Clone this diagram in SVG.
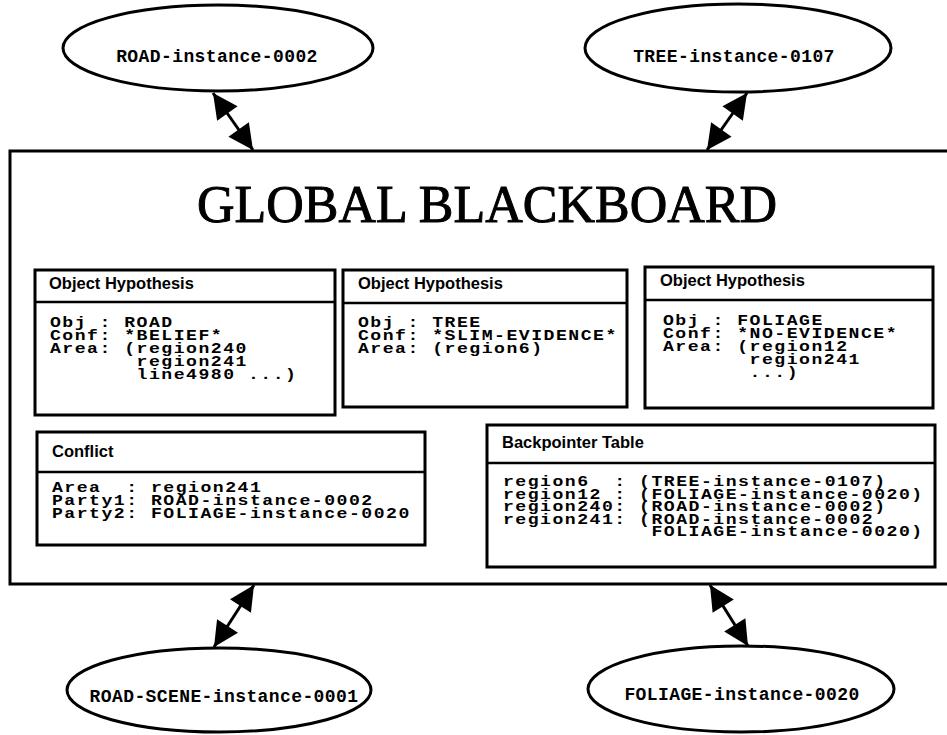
<svg xmlns="http://www.w3.org/2000/svg" width="947" height="735" viewBox="0 0 947 735">
<style>
.frame{fill:#fff;stroke:#000;stroke-width:3}
.node{fill:#fff;stroke:#000;stroke-width:3}
.sep{stroke:#000;stroke-width:2.5}
.lbl{font-family:"Liberation Mono","DejaVu Sans Mono",monospace;font-weight:bold;font-size:18px;letter-spacing:0.4px;text-anchor:middle;fill:#000}
.hdr{font-family:"Liberation Sans",Arial,sans-serif;font-weight:bold;font-size:16.5px;fill:#000}
.body{font-family:"Liberation Mono","DejaVu Sans Mono",monospace;font-weight:bold;font-size:14.5px;letter-spacing:1.2px;white-space:pre;fill:#000}
.title{font-family:"Liberation Serif","Times New Roman",serif;font-size:53px;text-anchor:middle;fill:#000;stroke:#000;stroke-width:1}
.conn{stroke:#000;stroke-width:3;fill:none;marker-start:url(#ah);marker-end:url(#ah)}
</style>
<defs>
<marker id="ah" viewBox="0 0 10 10" refX="10" refY="5" markerWidth="27" markerHeight="25" markerUnits="userSpaceOnUse" orient="auto-start-reverse">
<path d="M0,0 L10,5 L0,10 z" fill="#000"/>
</marker>
</defs>
<rect width="947" height="735" fill="#fff"/>

<g id="blackboard">
<rect class="frame" x="10" y="151" width="960" height="433"/>
<text class="title" x="487" y="222" textLength="580" lengthAdjust="spacingAndGlyphs">GLOBAL BLACKBOARD</text>
</g>

<g id="hyp-road">
<rect class="node" x="35" y="270" width="300" height="145"/>
<line class="sep" x1="35" y1="302" x2="335" y2="302"/>
<text class="hdr" x="49" y="289">Object Hypothesis</text>
<g transform="translate(50,0) scale(1.25,1)">
<text class="body" x="0" y="327" xml:space="preserve">Obj : ROAD</text>
<text class="body" x="0" y="340" xml:space="preserve">Conf: *BELIEF*</text>
<text class="body" x="0" y="353" xml:space="preserve">Area: (region240</text>
<text class="body" x="0" y="366" xml:space="preserve">       region241</text>
<text class="body" x="0" y="379" xml:space="preserve">       line4980 ...)</text>
</g>
</g>

<g id="hyp-tree">
<rect class="node" x="343" y="270" width="284" height="137"/>
<line class="sep" x1="343" y1="303" x2="627" y2="303"/>
<text class="hdr" x="358" y="289">Object Hypothesis</text>
<g transform="translate(358,0) scale(1.25,1)">
<text class="body" x="0" y="327" xml:space="preserve">Obj : TREE</text>
<text class="body" x="0" y="340" xml:space="preserve">Conf: *SLIM-EVIDENCE*</text>
<text class="body" x="0" y="353" xml:space="preserve">Area: (region6)</text>
</g>
</g>

<g id="hyp-foliage">
<rect class="node" x="645" y="267" width="288" height="141"/>
<line class="sep" x1="645" y1="300" x2="933" y2="300"/>
<text class="hdr" x="660" y="286">Object Hypothesis</text>
<g transform="translate(663,0) scale(1.25,1)">
<text class="body" x="0" y="325" xml:space="preserve">Obj : FOLIAGE</text>
<text class="body" x="0" y="338" xml:space="preserve">Conf: *NO-EVIDENCE*</text>
<text class="body" x="0" y="351" xml:space="preserve">Area: (region12</text>
<text class="body" x="0" y="364" xml:space="preserve">       region241</text>
<text class="body" x="0" y="377" xml:space="preserve">       ...)</text>
</g>
</g>

<g id="conflict">
<rect class="node" x="37" y="432" width="388" height="113"/>
<line class="sep" x1="37" y1="472" x2="425" y2="472"/>
<text class="hdr" x="52" y="457">Conflict</text>
<g transform="translate(52,0) scale(1.25,1)">
<text class="body" x="0" y="492" xml:space="preserve">Area  : region241</text>
<text class="body" x="0" y="505" xml:space="preserve">Party1: ROAD-instance-0002</text>
<text class="body" x="0" y="518" xml:space="preserve">Party2: FOLIAGE-instance-0020</text>
</g>
</g>

<g id="backpointer">
<rect class="node" x="487" y="425" width="448" height="142"/>
<line class="sep" x1="487" y1="463" x2="935" y2="463"/>
<text class="hdr" x="502" y="448">Backpointer Table</text>
<g transform="translate(503,0) scale(1.25,1)">
<text class="body" x="0" y="486" xml:space="preserve">region6  : (TREE-instance-0107)</text>
<text class="body" x="0" y="499" xml:space="preserve">region12 : (FOLIAGE-instance-0020)</text>
<text class="body" x="0" y="511" xml:space="preserve">region240: (ROAD-instance-0002)</text>
<text class="body" x="0" y="524" xml:space="preserve">region241: (ROAD-instance-0002</text>
<text class="body" x="0" y="536" xml:space="preserve">            FOLIAGE-instance-0020)</text>
</g>
</g>

<g id="road-instance">
<ellipse class="node" cx="218" cy="48" rx="155" ry="43"/>
<text class="lbl" x="217" y="62">ROAD-instance-0002</text>
</g>

<g id="tree-instance">
<ellipse class="node" cx="738" cy="48" rx="153" ry="44"/>
<text class="lbl" x="734" y="62">TREE-instance-0107</text>
</g>

<g id="road-scene-instance">
<ellipse class="node" cx="219" cy="690" rx="152" ry="42"/>
<text class="lbl" x="224" y="702">ROAD-SCENE-instance-0001</text>
</g>

<g id="foliage-instance">
<ellipse class="node" cx="741" cy="689" rx="153" ry="43"/>
<text class="lbl" x="742" y="700">FOLIAGE-instance-0020</text>
</g>

<g id="connectors">
<line class="conn" x1="213" y1="93" x2="253" y2="150"/>
<line class="conn" x1="747" y1="93" x2="707" y2="150"/>
<line class="conn" x1="254" y1="585" x2="214" y2="647"/>
<line class="conn" x1="710" y1="585" x2="748" y2="646"/>
</g>
</svg>
